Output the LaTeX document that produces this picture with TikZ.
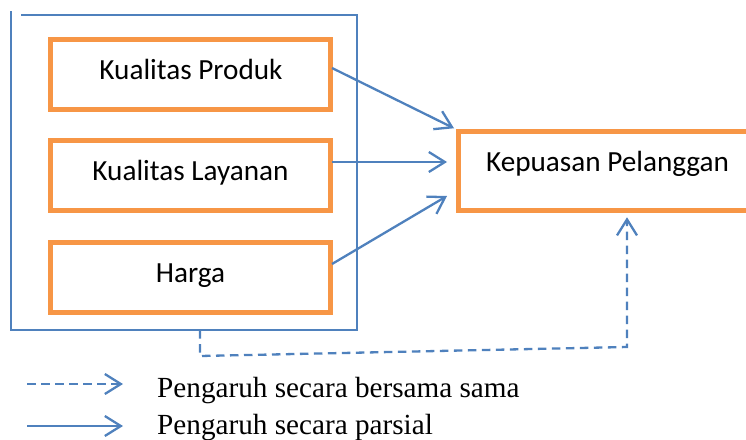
\documentclass[tikz,border=0pt]{standalone}
\usepackage{fontspec}
\setmainfont{Liberation Serif}
\newfontfamily\calibri{Carlito}
\usetikzlibrary{arrows.meta}
\definecolor{obox}{HTML}{F79646}
\definecolor{bline}{HTML}{4F81BD}
\tikzset{
  varbox/.style={draw=obox, line width=5pt, rectangle, minimum width=280.5pt, minimum height=70pt, outer sep=0pt, inner sep=0pt},
  boxtext/.style={anchor=base, inner sep=0pt, font=\calibri\fontsize{29.2}{35}\selectfont},
  legtext/.style={anchor=base west, inner sep=0pt, font=\fontsize{29.2}{35}\selectfont},
  frame/.style={draw=bline, line width=1.5pt},
  conn/.style={draw=bline, line width=2.3pt, -{Straight Barb[length=16pt,width=20pt]}},
  jointconn/.style={conn, dash pattern=on 8.5pt off 5.5pt},
}
\begin{document}
\begin{tikzpicture}[x=1pt,y=-1pt]
\useasboundingbox (0,0) rectangle (746,439);
\clip (0,0) rectangle (746,439);
% group frame
\node[draw=none, minimum width=346pt, minimum height=315pt, inner sep=0pt, outer sep=0pt] (grp) at (184,172.5) {};
\draw[frame] ([yshift=4pt]grp.north west) -- (grp.south west) -- (grp.south east) -- (grp.north east) -- ([xshift=10pt]grp.north west);
% variable boxes
\node[varbox] (b1) at (190.25,74.5) {};
\node[varbox] (b2) at (190.25,175.5) {};
\node[varbox] (b3) at (190.25,277) {};
\node[boxtext] (t1) at (191,79) {Kualitas Produk};
\node[boxtext] (t2) at (190.5,180) {Kualitas Layanan};
\node[boxtext] (t3) at (190.5,282) {Harga};
% dependent box
\node[varbox, minimum width=320pt, minimum height=79.5pt] (k) at (618.5,171) {};
\node[boxtext] (tk) at (607.5,171) {Kepuasan Pelanggan};
% partial arrows
\draw[conn] ([xshift=1.5pt,yshift=6.5pt]b1.east) -- ([xshift=-4.5pt,yshift=3pt]k.north west);
\draw[conn] ([xshift=1.5pt,yshift=13.5pt]b2.east) -- ([xshift=-11.5pt,yshift=9pt]k.west);
\draw[conn] ([xshift=1.5pt,yshift=13pt]b3.east) -- ([xshift=-11.5pt,yshift=-25pt]k.west);
% joint arrow
\coordinate (d1) at (200,356);
\coordinate (d2) at (627,347);
\draw[jointconn] ([xshift=16pt]grp.south) -- (d1) -- (d2) -- ([xshift=8.5pt,yshift=-6.5pt]k.south);
% legend
\coordinate (l1a) at (27,384);
\coordinate (l1b) at (123,384);
\coordinate (l2a) at (27,426);
\coordinate (l2b) at (123,426);
\draw[jointconn] (l1a) -- (l1b);
\draw[conn] (l2a) -- (l2b);
\node[legtext] (lt1) at (157,397) {Pengaruh secara bersama sama};
\node[legtext] (lt2) at (157,434) {Pengaruh secara parsial};
\end{tikzpicture}
\end{document}
